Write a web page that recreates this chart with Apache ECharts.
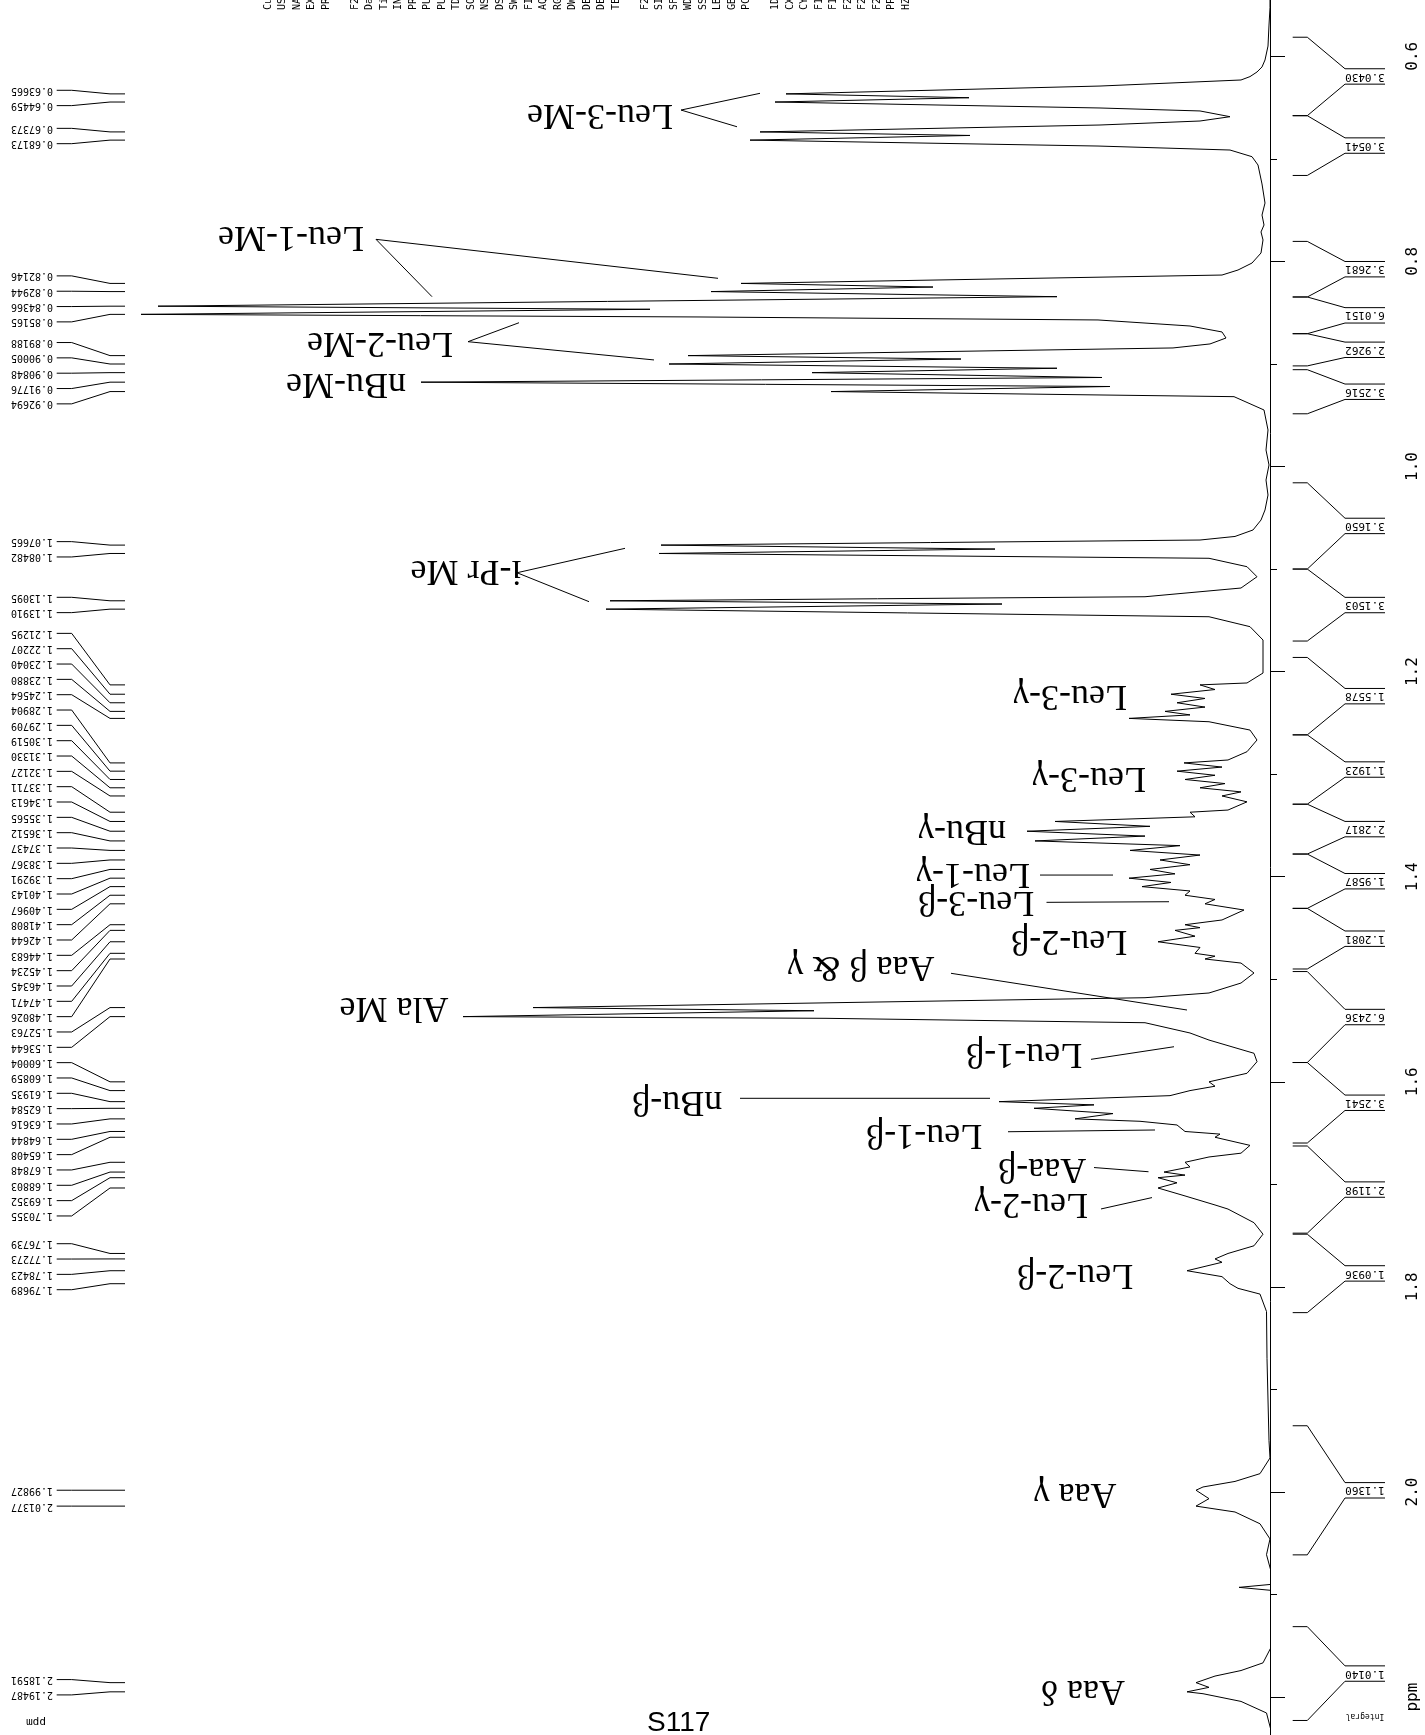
<!DOCTYPE html>
<html>
<head>
<meta charset="utf-8">
<script src="https://cdn.jsdelivr.net/npm/echarts@6/dist/echarts.min.js"></script>
<style>
html, body { margin: 0; padding: 0; background: #fff; }
#chart { width: 1425px; height: 1735px; }
</style>
</head>
<body>
<div id="chart"></div>
<script>
// 1H spectrum: [ppm, intensity]
var spectrum = [
  [0.540, 0.0], [0.5526, 0.0], [0.5695, 0.1], [0.5900, 0.2], [0.6036, 0.5], [0.6104, 0.8],
  [0.6153, 1.3], [0.6198, 2.0], [0.6231, 2.9], [0.6290, 17.0], [0.63665, 48.4], [0.6404, 30.1],
  [0.64459, 49.5], [0.6504, 17.0], [0.6533, 7.0], [0.6589, 4.0], [0.6631, 7.0], [0.6670, 17.0],
  [0.67373, 51.0], [0.6772, 30.0], [0.68173, 52.0], [0.6875, 17.2], [0.6914, 4.0], [0.6979, 1.8],
  [0.7060, 1.2], [0.7245, 0.8], [0.7431, 0.5], [0.7548, 0.8], [0.7645, 0.6], [0.7713, 0.9],
  [0.7791, 0.7], [0.7918, 0.9], [0.8016, 1.8], [0.8084, 3.2], [0.8133, 4.8], [0.82146, 52.9],
  [0.8250, 33.7], [0.82944, 55.9], [0.8344, 21.3], [0.84366, 111.2], [0.8467, 62.0], [0.85165, 112.9],
  [0.8542, 57.0], [0.8571, 17.2], [0.8630, 8.0], [0.8688, 4.8], [0.8747, 4.4], [0.8805, 6.0],
  [0.8844, 9.7], [0.89188, 58.2], [0.8952, 30.9], [0.90005, 60.1], [0.9042, 21.3], [0.90848, 45.8],
  [0.9132, 16.8], [0.91776, 84.9], [0.9220, 16.0], [0.92694, 43.9], [0.9319, 3.6], [0.9449, 0.6],
  [0.9644, 0.2], [0.9839, 0.4], [0.9985, 0.1], [1.0132, 0.4], [1.0278, 0.2], [1.0424, 0.5],
  [1.0522, 0.9], [1.0619, 1.7], [1.0682, 3.5], [1.0717, 7.0], [1.07665, 60.9], [1.0805, 27.5],
  [1.08482, 61.1], [1.0895, 6.1], [1.0977, 2.3], [1.1075, 1.3], [1.1185, 2.9], [1.1270, 12.5],
  [1.13095, 66.0], [1.1341, 26.8], [1.13910, 66.4], [1.1465, 6.1], [1.1562, 2.0], [1.1692, 0.7],
  [1.2014, 0.7], [1.2111, 2.3], [1.21295, 7.0], [1.2175, 5.5], [1.22207, 9.9], [1.2262, 6.5],
  [1.23040, 9.3], [1.2346, 6.5], [1.23880, 10.5], [1.2422, 8.0], [1.24564, 14.1], [1.2489, 6.1],
  [1.2570, 2.0], [1.2667, 1.3], [1.2781, 2.3], [1.2862, 4.2], [1.28904, 8.6], [1.2931, 4.8],
  [1.29709, 9.3], [1.3011, 5.5], [1.30519, 8.5], [1.3092, 4.5], [1.31330, 7.0], [1.3173, 2.9],
  [1.32127, 4.8], [1.3270, 2.3], [1.3350, 4.2], [1.33711, 8.0], [1.3416, 7.5], [1.34613, 21.5],
  [1.3509, 12.0], [1.35565, 24.3], [1.3604, 12.5], [1.36512, 23.5], [1.3697, 9.0], [1.37437, 14.0],
  [1.3789, 7.0], [1.38367, 11.0], [1.3883, 8.0], [1.39291, 12.0], [1.3972, 9.5], [1.40143, 14.1],
  [1.4056, 9.9], [1.40967, 12.8], [1.4139, 8.0], [1.41808, 8.5], [1.4222, 5.5], [1.42644, 6.5],
  [1.4325, 2.6], [1.4422, 4.8], [1.44683, 8.5], [1.4497, 7.0], [1.45234, 9.5], [1.4580, 7.5],
  [1.46345, 11.2], [1.4690, 7.0], [1.47471, 7.5], [1.4775, 5.5], [1.48026, 6.5], [1.4842, 2.9],
  [1.4939, 1.6], [1.5037, 2.9], [1.5134, 6.1], [1.5180, 12.5], [1.52763, 73.7], [1.5307, 45.6],
  [1.53644, 80.7], [1.5381, 44.4], [1.5424, 12.5], [1.5524, 8.0], [1.5593, 6.1], [1.5722, 1.6],
  [1.5804, 1.3], [1.5917, 2.3], [1.60004, 6.1], [1.6043, 5.5], [1.60859, 8.0], [1.6135, 10.0],
  [1.61935, 27.1], [1.6225, 17.6], [1.62584, 23.6], [1.6310, 15.7], [1.63616, 19.5], [1.6385, 13.0],
  [1.6421, 9.3], [1.64844, 8.5], [1.6510, 5.0], [1.65408, 5.5], [1.6620, 2.0], [1.6696, 2.9],
  [1.6733, 6.1], [1.67848, 8.5], [1.6830, 8.0], [1.68803, 10.6], [1.6910, 8.5], [1.69352, 11.2],
  [1.6985, 9.3], [1.70355, 11.2], [1.7110, 8.6], [1.7204, 5.4], [1.7241, 4.2], [1.7374, 1.6],
  [1.7486, 0.7], [1.7599, 1.6], [1.76739, 4.2], [1.77273, 5.5], [1.7760, 4.8], [1.78423, 8.3],
  [1.7900, 4.8], [1.79689, 4.0], [1.8014, 3.2], [1.8070, 1.0], [1.8240, 0.35], [1.8700, 0.3],
  [1.9103, 0.2], [1.9500, 0.1], [1.9668, 0.0], [1.9821, 1.0], [1.9897, 3.5], [1.9951, 6.7],
  [1.99827, 7.4], [2.0065, 6.1], [2.01377, 7.4], [2.0195, 3.5], [2.0310, 1.0], [2.0458, 0.0],
  [2.0611, 0.35], [2.0809, -0.2], [2.0900, -0.2], [2.0930, 3.1], [2.0960, -0.2], [2.1478, -0.3],
  [2.1666, 0.7], [2.1741, 2.9], [2.1795, 5.5], [2.18591, 7.4], [2.1905, 6.1], [2.19487, 8.3],
  [2.1967, 6.7], [2.2042, 2.9], [2.2155, 0.35], [2.2400, -0.3]
];

// peak picking list (ppm)
var peakList = [
  0.63665, 0.64459, 0.67373, 0.68173,
  0.82146, 0.82944, 0.84366, 0.85165, 0.89188, 0.90005, 0.90848, 0.91776, 0.92694,
  1.07665, 1.08482, 1.13095, 1.13910,
  1.21295, 1.22207, 1.23040, 1.23880, 1.24564, 1.28904, 1.29709, 1.30519, 1.31330, 1.32127,
  1.33711, 1.34613, 1.35565, 1.36512, 1.37437, 1.38367, 1.39291, 1.40143, 1.40967, 1.41808,
  1.42644, 1.44683, 1.45234, 1.46345, 1.47471, 1.48026, 1.52763, 1.53644, 1.60004, 1.60859,
  1.61935, 1.62584, 1.63616, 1.64844, 1.65408, 1.67848, 1.68803, 1.69352, 1.70355,
  1.76739, 1.77273, 1.78423, 1.79689, 1.99827, 2.01377, 2.18591, 2.19487
];

// integral regions (ppm) and their values
var integralRanges = [
  [0.5814, 0.6579], [0.6579, 0.7162], [0.7805, 0.8347], [0.8347, 0.8705], [0.8705, 0.9019],
  [0.9056, 0.9486], [1.0159, 1.1000], [1.1000, 1.1702], [1.1862, 1.2617], [1.2617, 1.3293],
  [1.3293, 1.3779], [1.3779, 1.4309], [1.4309, 1.4900], [1.4925, 1.5812], [1.5812, 1.6597],
  [1.6626, 1.7476], [1.7486, 1.8251], [1.9354, 2.0613], [2.1313, 2.2228]
];
var integralValues = [
  '3.0430', '3.0541', '3.2681', '6.0151', '2.9262', '3.2516', '3.1650', '3.1503', '1.5578',
  '1.1923', '2.2817', '1.9587', '1.2081', '6.2436', '3.2541', '2.1198', '1.0936', '1.1360', '1.0140'
];

// hand-written assignments
var assignments = [
  'Leu-3-Me', 'Leu-1-Me', 'Leu-2-Me', 'nBu-Me', 'i-Pr Me', 'Leu-3-γ', 'Leu-3-γ', 'nBu-γ',
  'Leu-1-γ', 'Leu-3-β', 'Leu-2-β', 'Aaa β & γ', 'Ala Me', 'Leu-1-β', 'nBu-β', 'Leu-1-β',
  'Aaa-β', 'Leu-2-γ', 'Leu-2-β', 'Aaa γ', 'Aaa δ'
];

// where each assignment sits, [ppm, intensity], and its pointer lines
var assignmentAnchor = [
  [0.6563, 67.0], [0.7752, 97.9], [0.8786, 89.0], [0.9186, 92.4], [1.1009, 80.4], [1.2228, 20.0],
  [1.3028, 18.1], [1.3545, 30.8], [1.3964, 29.7], [1.4237, 29.4], [1.4617, 20.1], [1.4871, 40.9],
  [1.5271, 87.6], [1.5719, 24.6], [1.6187, 59.3], [1.6509, 34.6], [1.6841, 22.8], [1.7182, 23.9],
  [1.7874, 19.5], [2.0010, 19.5], [2.1931, 18.7]
];
var assignmentPointer = [
  [[0.6361, 51.0], [0.6524, 58.9], [0.6687, 53.3]],
  [[0.8165, 55.2], [0.7785, 89.4], [0.8344, 83.8]],
  [[0.8598, 75.1], [0.8783, 80.2], [0.8961, 61.6]],
  null,
  [[1.0798, 64.5], [1.1036, 75.3], [1.1318, 68.1]],
  null, null, null,
  [[1.3984, 23.0], [1.3984, 15.7]],
  [[1.4250, 22.35], [1.4244, 10.1]],
  null,
  [[1.4942, 31.9], [1.5300, 8.3]],
  null,
  [[1.5781, 17.9], [1.5658, 9.6]],
  [[1.6161, 53.0], [1.6161, 28.0]],
  [[1.6487, 26.2], [1.6470, 11.5]],
  [[1.6836, 17.6], [1.6877, 12.15]],
  [[1.7240, 16.9], [1.7129, 11.8]],
  null, null, null
];

var headerColumns = [
  'Current Data Parameters', 'USER', 'NAME', 'EXPNO', 'PROCNO', '',
  'F2 - Acquisition Parameters', 'Date_', 'Time', 'INSTRUM', 'PROBHD', 'PULPROG', 'PULPROG', 'TD',
  'SOLVENT', 'NS', 'DS', 'SWH', 'FIDRES', 'AQ', 'RG', 'DW', 'DE', 'DE', 'TE', '',
  'F2 - Processing parameters', 'SI', 'SF', 'WDW', 'SSB', 'LB', 'GB', 'PC', '',
  '1D NMR plot parameters', 'CX', 'CY', 'F1P', 'F1', 'F2P', 'F2', 'F2P', 'PPMCM', 'HZCM'
];

// stack peak labels like the plotting program does
var labelStep = 0.01495;
function spreadLabels(list) {
  var groups = list.map(function (p) { return { members: [p], mid: p }; });
  var merged = true;
  while (merged) {
    merged = false;
    for (var i = 0; i < groups.length - 1; i++) {
      var a = groups[i], b = groups[i + 1];
      var aEnd = a.mid + (a.members.length - 1) / 2 * labelStep;
      var bStart = b.mid - (b.members.length - 1) / 2 * labelStep;
      if (bStart - aEnd < labelStep) {
        var m = a.members.concat(b.members);
        var sum = 0;
        m.forEach(function (v) { sum += v; });
        groups.splice(i, 2, { members: m, mid: sum / m.length });
        merged = true;
        break;
      }
    }
  }
  var out = [];
  groups.forEach(function (g) {
    g.members.forEach(function (p, k) {
      out.push(g.mid + (k - (g.members.length - 1) / 2) * labelStep);
    });
  });
  return out;
}
var peakLabelPpm = spreadLabels(peakList);

var mono = 'DejaVu Sans Mono';
var serif = 'Liberation Serif';

var chart = echarts.init(document.getElementById('chart'), null, { renderer: 'canvas' });

var option = {
  animation: false,
  backgroundColor: '#ffffff',
  grid: { left: 0, right: 155, top: -148.8, bottom: -167.2, containLabel: false, outerBoundsMode: 'none' },
  xAxis: {
    type: 'value', min: 0, max: 127, inverse: true, show: false
  },
  yAxis: {
    type: 'value', min: 0.4, max: 2.4, interval: 0.2, inverse: true,
    position: 'right', offset: 117.7,
    axisLine: { show: true, lineStyle: { color: '#000', width: 1 } },
    axisTick: { show: true, inside: false, length: 15, lineStyle: { color: '#000', width: 1 } },
    minorTick: { show: true, splitNumber: 2, length: 7, lineStyle: { color: '#000', width: 1 } },
    splitLine: { show: false },
    minorSplitLine: { show: false },
    axisLabel: {
      rotate: 90, margin: 17, color: '#000', fontFamily: mono, fontSize: 16,
      formatter: function (v) {
        if (Math.abs(v - 2.2) < 1e-6) return 'ppm';
        return v.toFixed(1);
      }
    }
  },
  series: [
    {
      type: 'line',
      data: spectrum.map(function (d) { return [d[1], d[0]]; }),
      showSymbol: false,
      symbol: 'none',
      lineStyle: { color: '#000', width: 1 },
      z: 3
    },
    {
      // peak list on the left
      type: 'custom',
      clip: false,
      data: peakList.map(function (p, i) { return [0, p, i]; }),
      renderItem: function (params, api) {
        var i = api.value(2);
        var py = api.coord([0, peakList[i]])[1];
        var ty = api.coord([0, peakLabelPpm[i]])[1];
        return {
          type: 'group',
          children: [
            {
              type: 'text', x: 53, y: ty, rotation: Math.PI,
              style: { text: peakList[i].toFixed(5), fontFamily: mono, fontSize: 10, fill: '#000', align: 'left', verticalAlign: 'middle' }
            },
            {
              type: 'polyline',
              shape: { points: [[56.7, ty], [71.7, ty], [110, py], [125, py]] },
              style: { stroke: '#000', lineWidth: 1, fill: null }
            }
          ]
        };
      }
    },
    {
      // integrals along the axis
      type: 'custom',
      clip: false,
      data: integralRanges.map(function (r, i) { return [0, r[0], i]; }),
      renderItem: function (params, api) {
        var i = api.value(2);
        var r = integralRanges[i];
        var ya = api.coord([0, r[0]])[1];
        var yb = api.coord([0, r[1]])[1];
        var yc = (ya + yb) / 2;
        var h = 7.7;
        var st = { stroke: '#000', lineWidth: 1, fill: null };
        return {
          type: 'group',
          children: [
            { type: 'polyline', shape: { points: [[1292.7, ya], [1307.3, ya], [1345, yc - h], [1385, yc - h]] }, style: st },
            { type: 'polyline', shape: { points: [[1385, yc + h], [1345, yc + h], [1307.3, yb], [1292.7, yb]] }, style: st },
            {
              type: 'text', x: 1365, y: yc, rotation: Math.PI,
              style: { text: integralValues[i], fontFamily: mono, fontSize: 11, fill: '#000', align: 'center', verticalAlign: 'middle' }
            }
          ]
        };
      }
    },
    {
      // assignments
      type: 'custom',
      clip: false,
      data: assignments.map(function (a, i) { return [assignmentAnchor[i][1], assignmentAnchor[i][0], i]; }),
      renderItem: function (params, api) {
        var i = api.value(2);
        var c = api.coord([assignmentAnchor[i][1], assignmentAnchor[i][0]]);
        var kids = [{
          type: 'text', x: c[0], y: c[1], rotation: Math.PI,
          style: { text: assignments[i], fontFamily: serif, fontSize: 36, fill: '#000', align: 'center', verticalAlign: 'middle' }
        }];
        var ptr = assignmentPointer[i];
        if (ptr) {
          kids.push({
            type: 'polyline',
            shape: { points: ptr.map(function (q) { return api.coord([q[1], q[0]]); }) },
            style: { stroke: '#000', lineWidth: 1, fill: null }
          });
        }
        return { type: 'group', children: kids };
      }
    }
  ],
  graphic: [
    {
      type: 'text', left: 647, top: 1709,
      style: { text: 'S117', fontFamily: 'Liberation Sans', fontSize: 28, fill: '#000' }
    },
    {
      type: 'text', x: 36, y: 1722, rotation: Math.PI,
      style: { text: 'ppm', fontFamily: mono, fontSize: 11, fill: '#000', align: 'center', verticalAlign: 'middle' }
    },
    {
      type: 'text', x: 1365, y: 1716, rotation: Math.PI,
      style: { text: 'Integral', fontFamily: mono, fontSize: 8, fill: '#000', align: 'center', verticalAlign: 'middle' }
    }
  ].concat(headerColumns.map(function (t, k) {
    return {
      type: 'text', x: 268 + k * 14.5, y: 10, rotation: Math.PI / 2,
      style: { text: t, fontFamily: mono, fontSize: 10, fill: '#000', align: 'left', verticalAlign: 'middle' }
    };
  }))
};

chart.setOption(option);
</script>
</body>
</html>
